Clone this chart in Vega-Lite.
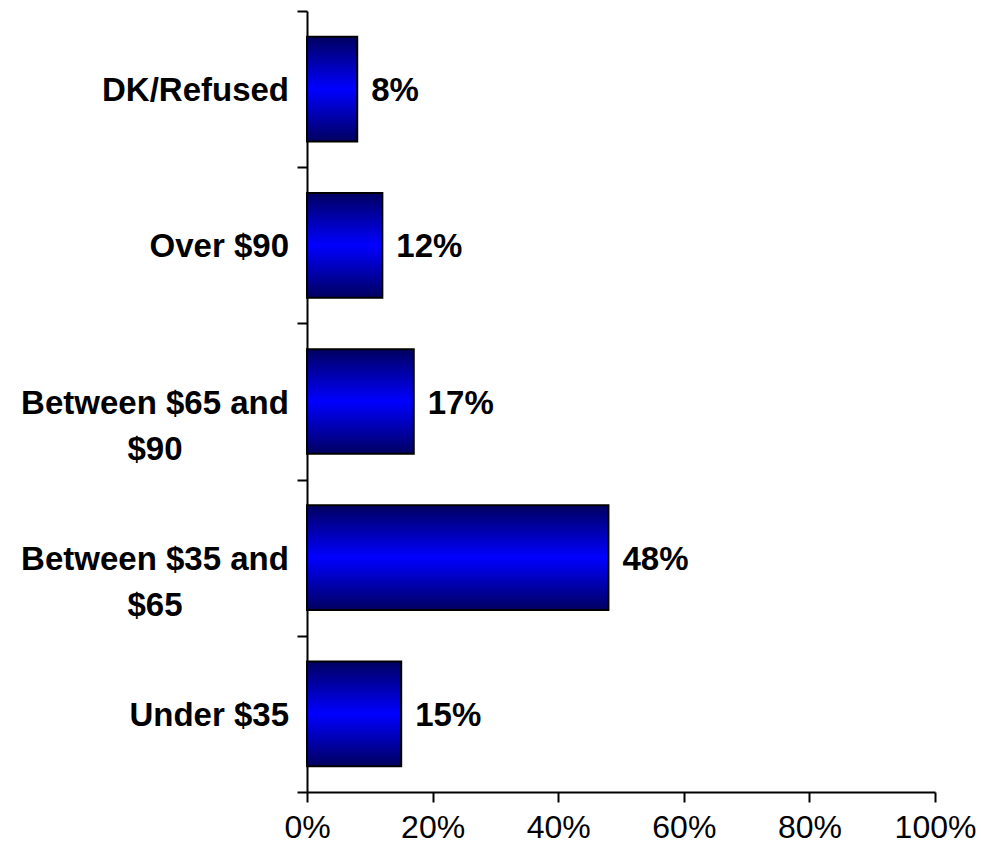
{
  "$schema": "https://vega.github.io/schema/vega-lite/v6.json",
  "width": 628,
  "height": 781,
  "autosize": "none",
  "padding": {"left": 307, "top": 11, "right": 46, "bottom": 54},
  "background": "white",
  "config": {"view": {"stroke": null}, "font": "Liberation Sans"},
  "data": {
    "values": [
      {"cat": "DK/Refused", "pct": 0.08},
      {"cat": "Over $90", "pct": 0.12},
      {"cat": "Between $65 and\n$90", "pct": 0.17},
      {"cat": "Between $35 and\n$65", "pct": 0.48},
      {"cat": "Under $35", "pct": 0.15}
    ]
  },
  "encoding": {
    "y": {
      "field": "cat",
      "type": "nominal",
      "sort": null,
      "scale": {"paddingInner": 0, "paddingOuter": 0},
      "axis": {
        "labels": false,
        "title": null,
        "tickBand": "extent",
        "tickSize": 10,
        "tickColor": "black",
        "tickWidth": 2,
        "domainColor": "black",
        "domainWidth": 2
      }
    }
  },
  "layer": [
    {
      "mark": {
        "type": "bar",
        "height": {"band": 0.67},
        "stroke": "black",
        "strokeWidth": 2,
        "fill": {
          "gradient": "linear",
          "x1": 0, "y1": 0, "x2": 0, "y2": 1,
          "stops": [
            {"offset": 0, "color": "#000060"},
            {"offset": 0.5, "color": "#0000ff"},
            {"offset": 1, "color": "#000060"}
          ]
        }
      },
      "encoding": {
        "x": {
          "field": "pct",
          "type": "quantitative",
          "scale": {"domain": [0, 1], "nice": false},
          "axis": {
            "title": null,
            "grid": false,
            "values": [0, 0.2, 0.4, 0.6, 0.8, 1],
            "format": ".0%",
            "labelFlush": false,
            "labelOverlap": false,
            "labelFontSize": 32,
            "labelColor": "black",
            "labelFont": "Liberation Sans",
            "labelPadding": 10,
            "tickSize": 10,
            "tickColor": "black",
            "tickWidth": 2,
            "domainColor": "black",
            "domainWidth": 2
          }
        }
      }
    },
    {
      "mark": {
        "type": "text",
        "align": "left",
        "baseline": "middle",
        "dx": 14,
        "dy": 2,
        "fontSize": 33,
        "fontWeight": "bold",
        "font": "Liberation Sans",
        "color": "black"
      },
      "encoding": {
        "x": {"field": "pct", "type": "quantitative"},
        "text": {"field": "pct", "type": "quantitative", "format": ".0%"}
      }
    },
    {
      "transform": [{"filter": "indexof(datum.cat, '\\n') < 0"}],
      "mark": {
        "type": "text",
        "align": "right",
        "baseline": "middle",
        "dx": -18,
        "dy": 2,
        "fontSize": 33,
        "fontWeight": "bold",
        "font": "Liberation Sans",
        "color": "black"
      },
      "encoding": {
        "x": {"datum": 0, "type": "quantitative"},
        "text": {"field": "cat"}
      }
    },
    {
      "transform": [{"filter": "indexof(datum.cat, '\\n') >= 0"}],
      "mark": {
        "type": "text",
        "align": "center",
        "baseline": "middle",
        "dx": -152,
        "dy": 2,
        "lineBreak": "\n",
        "lineHeight": 46,
        "fontSize": 33,
        "fontWeight": "bold",
        "font": "Liberation Sans",
        "color": "black"
      },
      "encoding": {
        "x": {"datum": 0, "type": "quantitative"},
        "text": {"field": "cat"}
      }
    }
  ]
}
